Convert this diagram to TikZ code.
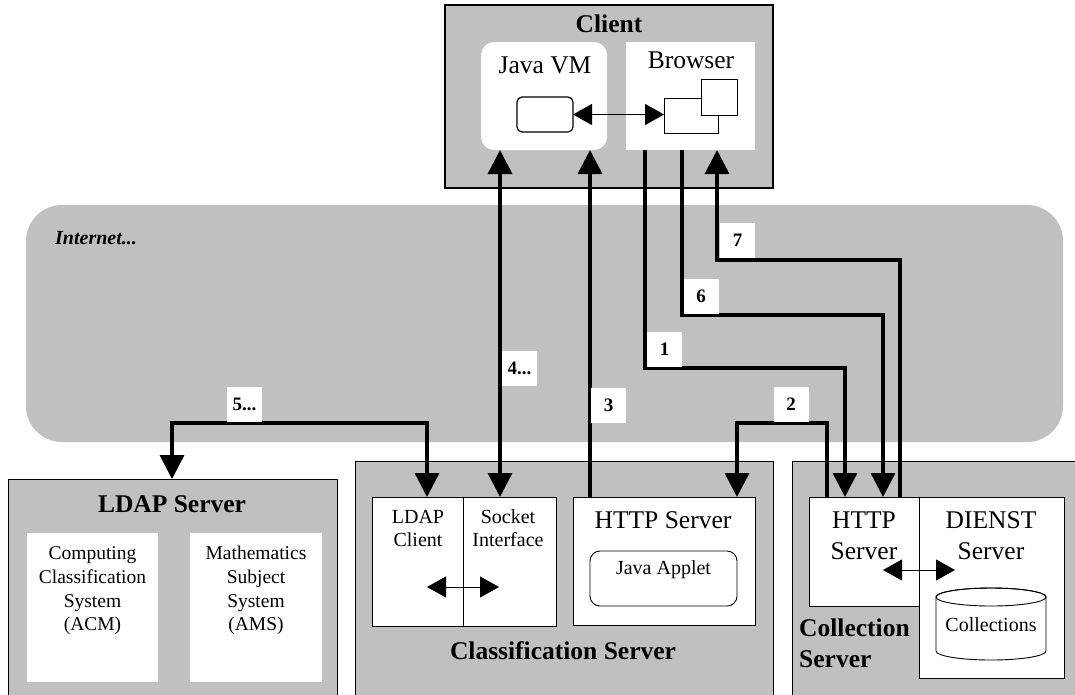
\documentclass[tikz,border=0pt]{standalone}
\usepackage{fontspec}
\setmainfont{Liberation Serif}
\usetikzlibrary{arrows.meta}
\definecolor{boxgray}{RGB}{192,192,192}
\begin{document}
\begin{tikzpicture}[x=1pt,y=-1pt,
  graybox/.style={draw=black, line width=1pt, fill=boxgray, inner sep=0pt, outer sep=0pt},
  plainwhite/.style={fill=white, draw=none, inner sep=0pt, outer sep=0pt},
  linebox/.style={draw=black, line width=0.9pt, fill=white, inner sep=0pt, outer sep=0pt},
  txt/.style={anchor=base, inner sep=0pt, font=\fontsize{25.5}{30}\selectfont},
  smalltxt/.style={anchor=base, inner sep=0pt, font=\fontsize{20}{24}\selectfont},
  ldaptxt/.style={anchor=base, inner sep=0pt, font=\fontsize{19.5}{23}\selectfont},
  boldtxt/.style={anchor=base, inner sep=0pt, font=\fontsize{25.5}{30}\selectfont\bfseries},
  numlbl/.style={fill=white, inner sep=0pt, minimum width=35pt, minimum height=35pt, font=\fontsize{19}{22}\selectfont\bfseries},
  conn/.style={line width=3.5pt, line join=miter},
  arr/.style={-{Triangle[width=24pt,length=24pt]}},
  darr/.style={{Triangle[width=24pt,length=24pt]}-{Triangle[width=24pt,length=24pt]}},
  thinarrow/.style={line width=1pt, {Triangle[width=21pt,length=19pt]}-{Triangle[width=21pt,length=19pt]}}
]
\clip (0,0) rectangle (1075,694);
\fill[white] (0,0) rectangle (1075,694);

% Internet cloud band
\node[fill=boxgray, rounded corners=36pt, minimum width=1037pt, minimum height=237pt, inner sep=0pt, outer sep=0pt] (internet) at (544.5,323.5) {};
\node[anchor=base west, inner sep=0pt, font=\fontsize{20}{24}\selectfont\bfseries\itshape] (internetT) at (55,244) {Internet...};

% Client
\node[graybox, line width=1.3pt, minimum width=328pt, minimum height=183pt] (client) at (609,96.5) {};
\node[plainwhite, rounded corners=13pt, minimum width=126pt, minimum height=108pt] (jvm) at (544,96) {};
\node[plainwhite, minimum width=129pt, minimum height=108pt] (browser) at (690.5,96) {};
\node[linebox, line width=1.2pt, rounded corners=5pt, minimum width=56pt, minimum height=35pt] (vmwin) at (545,114.5) {};
\node[linebox, minimum width=54pt, minimum height=35pt] (bwin1) at (691,115.5) {};
\node[linebox, minimum width=36pt, minimum height=36pt] (bwin2) at (719,97) {};
\node[boldtxt] (clientT) at (609,32) {Client};
\node[txt] (jvmT) at (545,73) {Java VM};
\node[txt] (browserT) at (691,68) {Browser};

% LDAP Server
\node[graybox, minimum width=329pt, minimum height=241pt] (ldapsrv) at (172.5,599.5) {};
\node[plainwhite, minimum width=131pt, minimum height=149pt] (acm) at (92.5,607.5) {};
\node[plainwhite, minimum width=132pt, minimum height=149pt] (ams) at (256,607.5) {};
\node[boldtxt] (ldapsrvT) at (172,512) {LDAP Server};
\node[ldaptxt] (acm1) at (92.5,559) {Computing};
\node[ldaptxt] (acm2) at (92.5,583) {Classification};
\node[ldaptxt] (acm3) at (92.5,607) {System};
\node[ldaptxt] (acm4) at (92.5,630) {(ACM)};
\node[ldaptxt] (ams1) at (256,559) {Mathematics};
\node[ldaptxt] (ams2) at (256,583) {Subject};
\node[ldaptxt] (ams3) at (256,607) {System};
\node[ldaptxt] (ams4) at (256,630) {(AMS)};

% Classification Server
\node[graybox, minimum width=418pt, minimum height=259pt] (clsrv) at (564,590.5) {};
\node[linebox, minimum width=91pt, minimum height=129pt] (ldapcl) at (417.5,561.5) {};
\node[linebox, minimum width=93pt, minimum height=129pt] (sock) at (509.5,561.5) {};
\node[linebox, minimum width=182pt, minimum height=128pt] (httpsrv) at (664,561) {};
\node[linebox, rounded corners=10pt, minimum width=147pt, minimum height=55pt] (japplet) at (663.5,578.5) {};
\node[smalltxt] (lc1) at (418,523) {LDAP};
\node[smalltxt] (lc2) at (418,546) {Client};
\node[smalltxt] (si1) at (508,523) {Socket};
\node[smalltxt] (si2) at (508,546) {Interface};
\node[txt] (httpT) at (663,528) {HTTP Server};
\node[smalltxt] (japT) at (663.5,574) {Java Applet};
\node[boldtxt] (clsrvT) at (563,659) {Classification Server};

% Collection Server
\node[graybox, minimum width=298pt, minimum height=259pt] (colsrv) at (941,590.5) {};
\node[linebox, minimum width=110pt, minimum height=109pt] (colhttp) at (864,551.5) {};
\node[linebox, minimum width=145pt, minimum height=181pt] (dienst) at (991.5,587.5) {};
\filldraw[draw=black, line width=0.9pt, fill=white] (936,597) -- (936,651) arc[start angle=180, end angle=0, x radius=55, y radius=9] -- (1046,597) arc[start angle=0, end angle=-180, x radius=55, y radius=9] -- cycle;
\draw[line width=0.9pt] (991,597) ellipse[x radius=55, y radius=9];
\node[txt] (chT1) at (864,528) {HTTP};
\node[txt] (chT2) at (864,559) {Server};
\node[txt] (diT1) at (991,528) {DIENST};
\node[txt] (diT2) at (991,559) {Server};
\node[smalltxt] (collT) at (991,631) {Collections};
\node[boldtxt, anchor=base west] (colsrvT1) at (799,636) {Collection};
\node[boldtxt, anchor=base west] (colsrvT2) at (799,667) {Server};

% connector coordinates
\coordinate (x4) at (500,0);
\coordinate (x3) at (590,0);
\coordinate (x1) at (645,0);
\coordinate (x6) at (682,0);
\coordinate (x7) at (717,0);
\coordinate (x5a) at (427,0);
\coordinate (x5b) at (172,0);
\coordinate (x2a) at (827,0);
\coordinate (x2b) at (737,0);
\coordinate (x1b) at (845,0);
\coordinate (x6b) at (883,0);
\coordinate (x7b) at (900,0);
\coordinate (y7) at (0,260);
\coordinate (y6) at (0,315);
\coordinate (y1) at (0,368);
\coordinate (y2) at (0,423);

% thick connectors
\draw[conn, darr] (jvm.south -| x4) -- (sock.north -| x4);
\draw[conn, arr] (httpsrv.north -| x3) -- (jvm.south -| x3);
\draw[conn, arr] (browser.south -| x1) -- (x1 |- y1) -- (x1b |- y1) -- (colhttp.north -| x1b);
\draw[conn, arr] (browser.south -| x6) -- (x6 |- y6) -- (x6b |- y6) -- (colhttp.north -| x6b);
\draw[conn, arr] (colhttp.north -| x7b) -- (x7b |- y7) -- (x7 |- y7) -- (browser.south -| x7);
\draw[conn, arr] (colhttp.north -| x2a) -- (x2a |- y2) -- (x2b |- y2) -- (httpsrv.north -| x2b);
\draw[conn, darr] (ldapcl.north -| x5a) -- (x5a |- y2) -- (x5b |- y2) -- (ldapsrv.north -| x5b);

% thin double arrows
\coordinate (la) at (427,587);
\coordinate (lb) at (499,587);
\coordinate (ca) at (883,570);
\coordinate (cb) at (955,570);
\draw[thinarrow] (vmwin.east) -- (vmwin.east -| bwin1.west);
\draw[thinarrow] (la) -- (lb);
\draw[thinarrow] (ca) -- (cb);

% step labels
\node[numlbl] (n7) at (737.5,240) {7};
\node[numlbl] (n6) at (701,296) {6};
\node[numlbl] (n1) at (664.5,349.5) {1};
\node[numlbl] (n2) at (791,404.5) {2};
\node[numlbl] (n3) at (608.5,405) {3};
\node[numlbl] (n4) at (519.5,368) {4...};
\node[numlbl] (n5) at (244.5,404.5) {5...};
\end{tikzpicture}
\end{document}
